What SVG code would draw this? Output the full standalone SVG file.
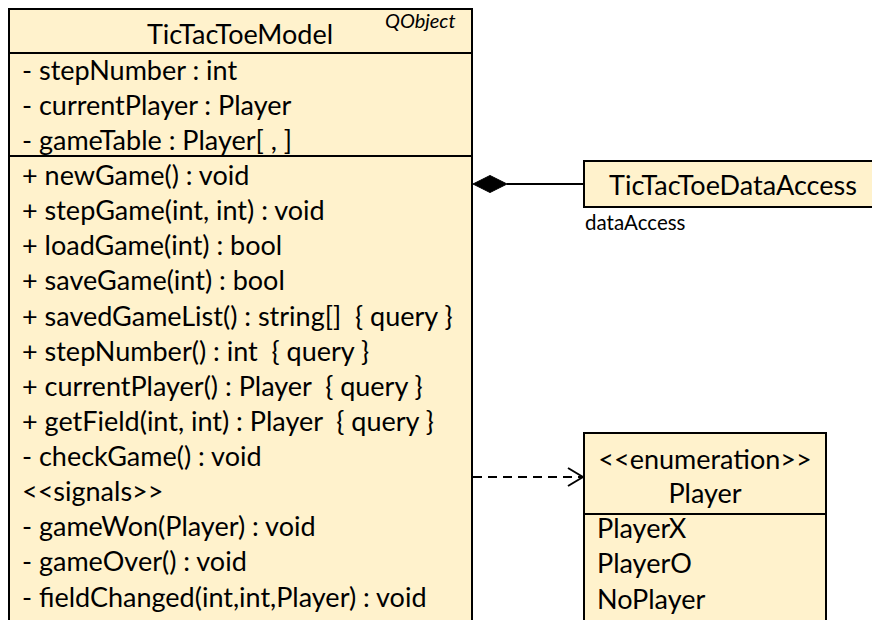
<svg xmlns="http://www.w3.org/2000/svg" width="872" height="620" viewBox="0 0 872 620">
<style>
.box{fill:#FFF2CC;stroke:#000;stroke-width:2}
.ln{stroke:#000;stroke-width:2;fill:none}
text{font-family:Lato,"Open Sans","Liberation Sans",sans-serif;font-size:27px;fill:#000}
.m{dominant-baseline:central}
.c{text-anchor:middle}
.sm{font-size:20.5px}
.it{font-style:italic;font-size:20px}
</style>
<defs>
<marker id="open" viewBox="0 0 17 20" refX="16" refY="10" markerWidth="17" markerHeight="20" markerUnits="userSpaceOnUse" orient="auto">
<path d="M1,1 L16,10 L1,19" fill="none" stroke="#000" stroke-width="2"/>
</marker>
</defs>
<g id="connectors">
<line class="ln" x1="507" y1="184" x2="584" y2="184"/>
<path d="M473,184 L490,175.5 L507,184 L490,192.5 Z" fill="#000" stroke="#000" stroke-width="1"/>
<text class="sm" x="585" y="230">dataAccess</text>
<line class="ln" x1="473" y1="477" x2="583" y2="477" stroke-dasharray="9,6" marker-end="url(#open)"/>
</g>
<g id="TicTacToeModel">
<rect class="box" x="9" y="9" width="463" height="625"/>
<line class="ln" x1="9" y1="53" x2="472" y2="53"/>
<line class="ln" x1="9" y1="156" x2="472" y2="156"/>
<text class="m c" x="240" y="33">TicTacToeModel</text>
<text class="it" x="385" y="28">QObject</text>
<text class="m" x="22" y="69">- stepNumber : int</text>
<text class="m" x="22" y="104">- currentPlayer : Player</text>
<text class="m" x="22" y="139">- gameTable : Player[ , ]</text>
<text class="m" x="22" y="174">+ newGame() : void</text>
<text class="m" x="22" y="209">+ stepGame(int, int) : void</text>
<text class="m" x="22" y="244">+ loadGame(int) : bool</text>
<text class="m" x="22" y="279">+ saveGame(int) : bool</text>
<text class="m" x="22" y="315" xml:space="preserve">+ savedGameList() : string[]  { query }</text>
<text class="m" x="22" y="350" xml:space="preserve">+ stepNumber() : int  { query }</text>
<text class="m" x="22" y="385" xml:space="preserve">+ currentPlayer() : Player  { query }</text>
<text class="m" x="22" y="420" xml:space="preserve">+ getField(int, int) : Player  { query }</text>
<text class="m" x="22" y="455">- checkGame() : void</text>
<text class="m" x="22" y="490">&lt;&lt;signals&gt;&gt;</text>
<text class="m" x="22" y="525">- gameWon(Player) : void</text>
<text class="m" x="22" y="560">- gameOver() : void</text>
<text class="m" x="22" y="596">- fieldChanged(int,int,Player) : void</text>
</g>
<g id="TicTacToeDataAccess">
<rect class="box" x="584" y="161" width="300" height="46"/>
<text class="m c" x="733" y="184">TicTacToeDataAccess</text>
</g>
<g id="Player">
<rect class="box" x="584" y="433" width="242" height="200"/>
<line class="ln" x1="584" y1="514" x2="826" y2="514"/>
<text class="m c" x="705" y="458">&lt;&lt;enumeration&gt;&gt;</text>
<text class="m c" x="705" y="492">Player</text>
<text class="m" x="597" y="527">PlayerX</text>
<text class="m" x="597" y="562">PlayerO</text>
<text class="m" x="597" y="598">NoPlayer</text>
</g>
</svg>
